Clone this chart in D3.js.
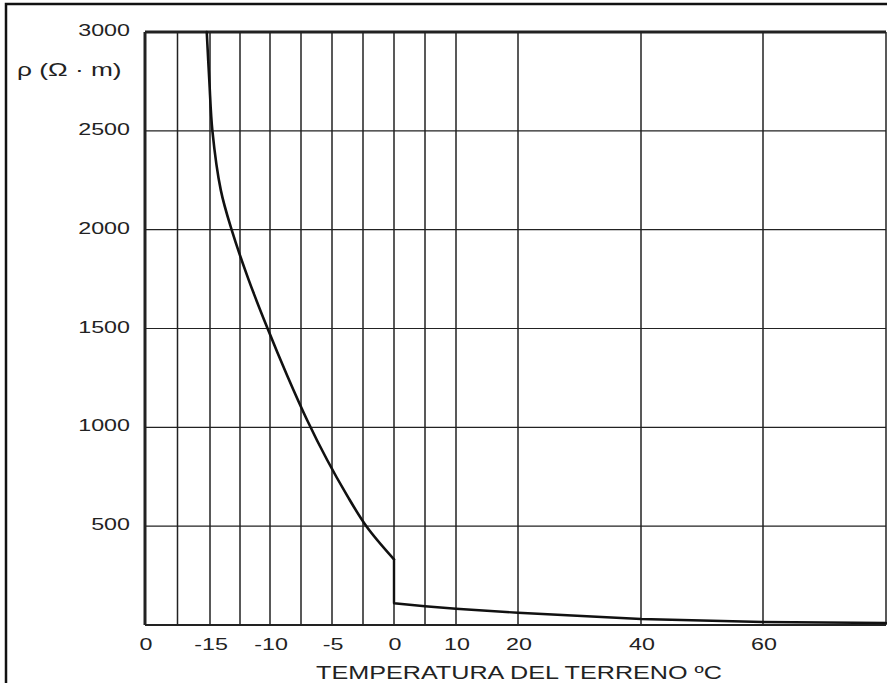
<!DOCTYPE html>
<html>
<head>
<meta charset="utf-8">
<script src="https://cdn.jsdelivr.net/npm/d3@7/dist/d3.min.js"></script>
<style>
  html, body { margin: 0; padding: 0; background: #fff; }
  svg { display: block; }
  text { font-family: "Liberation Sans", Arial, sans-serif; fill: #222; }
</style>
</head>
<body>
<svg id="chart" width="887" height="683"></svg>
<script>
// ---- data ----
const tempBreaks = [-20, -15, -10, -5, 0, 10, 20, 40, 60, 80];
const gridTemps = [-20, -17.5, -15, -12.5, -10, -7.5, -5, -2.5, 0, 5, 10, 20, 40, 60, 80];
const tickTemps = [-20, -15, -10, -5, 0, 10, 20, 40, 60];
const tickLabels = ["0", "-15", "-10", "-5", "0", "10", "20", "40", "60"];
const rhoTicks = [500, 1000, 1500, 2000, 2500, 3000];
const rhoLabels = ["500", "1000", "1500", "2000", "2500", "3000"];
// frozen soil branch (below 0 °C)
const frozenTemps = [-15.25, -15.05, -14.8, -14.1, -13.2, -11.8, -10.2, -8.6, -7.0, -5.4, -3.8, -2.2, 0];
const frozenRho   = [3000, 2750, 2500, 2200, 2000, 1750, 1500, 1260, 1036, 836, 657, 497, 332];
// thawed soil branch (from 0 °C upward)
const thawTemps = [0, 0, 5, 10, 20, 40, 60, 80];
const thawRho   = [332, 110, 95, 82, 62, 30, 15, 10];
const yTitle = "ρ (Ω · m)";
const xTitle = "TEMPERATURA DEL TERRENO ºC";

// ---- layout ----
(function () {
const svg = d3.select("#chart");
const pLeft = 145, pRight = 886, pTop = 32, pBottom = 625;
const stretch = 1.37;

const x = d3.scaleLinear()
  .domain(tempBreaks)
  .range([145, 210, 270, 332, 394, 456, 518, 641, 763, 886]);
const y = d3.scaleLinear().domain([0, 3000]).range([pBottom, pTop]);

// outer frame
svg.append("rect").attr("x", 6).attr("y", 4).attr("width", 900).attr("height", 700)
  .attr("fill", "none").attr("stroke", "#111").attr("stroke-width", 2.5);

// vertical grid
svg.append("g").selectAll("line").data(gridTemps).join("line")
  .attr("x1", d => x(d)).attr("x2", d => x(d))
  .attr("y1", pTop).attr("y2", pBottom)
  .attr("stroke", "#222").attr("stroke-width", d => d === -20 ? 3 : 1.5);

// horizontal grid
svg.append("g").selectAll("line").data([0, ...rhoTicks]).join("line")
  .attr("x1", pLeft).attr("x2", pRight)
  .attr("y1", d => y(d)).attr("y2", d => y(d))
  .attr("stroke", "#222").attr("stroke-width", d => d === 3000 ? 3 : (d === 0 ? 2.2 : 1.2));

// curve
const smooth = d3.line().x(d => x(d[0])).y(d => y(d[1])).curve(d3.curveCatmullRom.alpha(0.5));
const straight = d3.line().x(d => x(d[0])).y(d => y(d[1]));
svg.append("path")
  .datum(frozenTemps.map((t, i) => [t, frozenRho[i]]))
  .attr("d", smooth)
  .attr("fill", "none").attr("stroke", "#111").attr("stroke-width", 2.6)
  .attr("stroke-linejoin", "round").attr("stroke-linecap", "round");
svg.append("path")
  .datum(thawTemps.map((t, i) => [t, thawRho[i]]))
  .attr("d", straight)
  .attr("fill", "none").attr("stroke", "#111").attr("stroke-width", 2.4)
  .attr("stroke-linejoin", "round").attr("stroke-linecap", "round");

// y tick labels
svg.append("g").selectAll("text").data(rhoTicks).join("text")
  .attr("transform", d => `translate(130,${y(d) + 4}) scale(${stretch},1)`)
  .attr("text-anchor", "end")
  .attr("font-size", 17)
  .text((d, i) => rhoLabels[i]);

// y title
svg.append("text")
  .attr("transform", `translate(17,76) scale(1.46,1)`)
  .attr("font-size", 18)
  .text(yTitle);

// x tick labels
svg.append("g").selectAll("text").data(tickTemps).join("text")
  .attr("transform", d => `translate(${x(d) + 1},650) scale(${stretch},1)`)
  .attr("text-anchor", "middle")
  .attr("font-size", 17)
  .text((d, i) => tickLabels[i]);

// x title
svg.append("text")
  .attr("transform", `translate(519,679) scale(1.4,1)`)
  .attr("text-anchor", "middle")
  .attr("font-size", 18)
  .text(xTitle);
})();
</script>
</body>
</html>
